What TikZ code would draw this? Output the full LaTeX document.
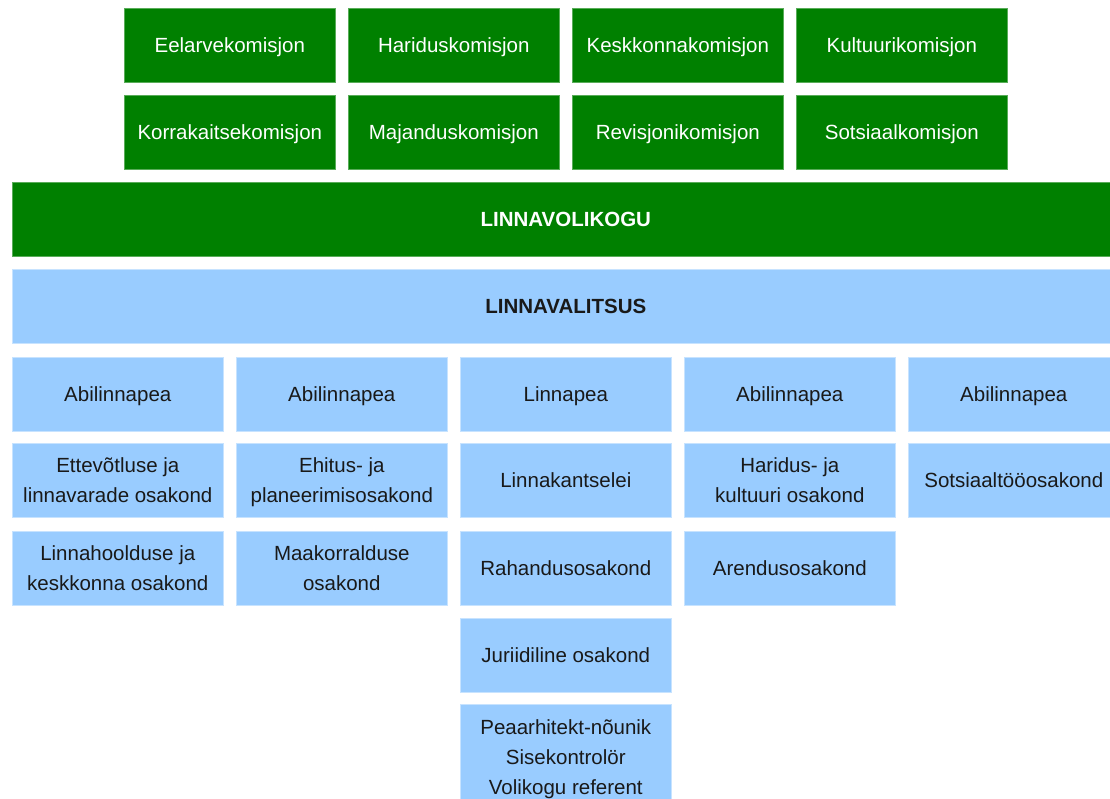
\documentclass[tikz,border=0pt]{standalone}
\usepackage{fontspec}
\setmainfont{Liberation Sans}
\definecolor{vgreen}{RGB}{0,128,0}
\definecolor{vblue}{RGB}{153,204,255}
\tikzset{
	box/.style={anchor=north west, minimum width=211pt, minimum height=74pt, inner sep=0pt,
		align=center, text depth=0pt, line width=0.6pt, font=\fontsize{20.5}{30}\selectfont},
	greenbox/.style={box, fill=vgreen, draw=vgreen!65!white, text=white},
	bluebox/.style={box, fill=vblue, draw=vblue!55!white, text=black!90},
	widebox/.style={minimum width=1107pt}
}

\begin{document}
\begin{tikzpicture}[x=1pt, y=-1pt]
			%%%%% START %%%%%
			\useasboundingbox (0, 0) rectangle (1110, 799);
			\clip (0, 0) rectangle (1110, 799);
			
			% komisjonid
			\node[greenbox] (eelarve) at (124, 8) {Eelarvekomisjon};
			\node[greenbox] (haridus) at (348, 8) {Hariduskomisjon};
			\node[greenbox] (keskkond) at (572, 8) {Keskkonnakomisjon};
			\node[greenbox] (kultuur) at (796, 8) {Kultuurikomisjon};
			
			\node[greenbox] (korrakaitse) at (124, 95) {Korrakaitsekomisjon};
			\node[greenbox] (majandus) at (348, 95) {Majanduskomisjon};
			\node[greenbox] (revisjon) at (572, 95) {Revisjonikomisjon};
			\node[greenbox] (sotsiaal) at (796, 95) {Sotsiaalkomisjon};
			
			% volikogu ja valitsus
			\node[greenbox, widebox, font=\fontsize{20.5}{30}\selectfont\bfseries] (volikogu) at (12, 182) {LINNAVOLIKOGU};
			\node[bluebox, widebox, font=\fontsize{20.5}{30}\selectfont\bfseries] (valitsus) at (12, 269) {LINNAVALITSUS};
			
			% juhid
			\node[bluebox] (abi1) at (12, 357) {Abilinnapea};
			\node[bluebox] (abi2) at (236, 357) {Abilinnapea};
			\node[bluebox] (linnapea) at (460, 357) {Linnapea};
			\node[bluebox] (abi4) at (684, 357) {Abilinnapea};
			\node[bluebox] (abi5) at (908, 357) {Abilinnapea};
			
			% osakonnad
			\node[bluebox] (ettevotlus) at (12, 443) {Ettevõtluse ja\\linnavarade osakond};
			\node[bluebox] (ehitus) at (236, 443) {Ehitus- ja\\planeerimisosakond};
			\node[bluebox] (kantselei) at (460, 443) {Linnakantselei};
			\node[bluebox] (kultuurios) at (684, 443) {Haridus- ja\\kultuuri osakond};
			\node[bluebox] (sotsiaaltoo) at (908, 443) {Sotsiaaltööosakond};
			
			\node[bluebox] (hooldus) at (12, 531) {Linnahoolduse ja\\keskkonna osakond};
			\node[bluebox] (maakorraldus) at (236, 531) {Maakorralduse\\osakond};
			\node[bluebox] (rahandus) at (460, 531) {Rahandusosakond};
			\node[bluebox] (arendus) at (684, 531) {Arendusosakond};
			
			\node[bluebox] (juriidiline) at (460, 618) {Juriidiline osakond};
			\node[bluebox, minimum height=106pt] (noustajad) at (460, 704) {Peaarhitekt-nõunik\\Sisekontrolör\\Volikogu referent};
			
			%%%%% END %%%%%
\end{tikzpicture}
\end{document}
